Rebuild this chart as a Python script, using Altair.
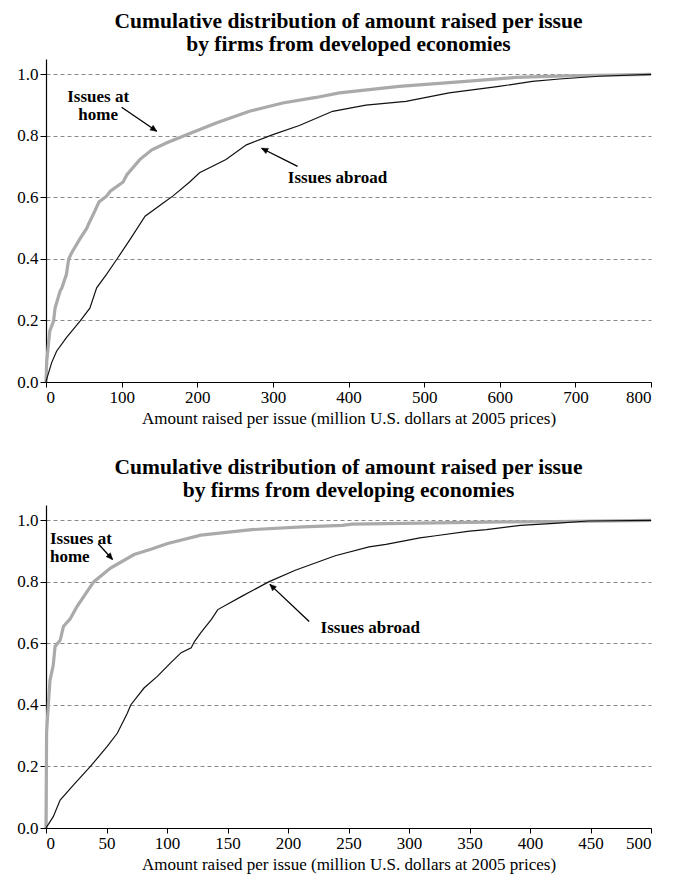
import math
import altair as alt
import pandas as pd

FONT = "Liberation Serif"
XTITLE = "Amount raised per issue (million U.S. dollars at 2005 prices)"

# ---- Panel 1: developed economies ----
dev_title = ["Cumulative distribution of amount raised per issue",
             "by firms from developed economies"]
dev_home_x = [0, 1, 5, 10, 12, 18.5, 21, 27, 30, 34, 45, 54, 56, 62.5, 70, 80, 85, 102, 107,
              124, 140, 159, 186, 225, 269, 313, 357, 388, 467, 555, 621, 687, 750, 800]
dev_home_y = [0, 0.068, 0.166, 0.198, 0.24, 0.295, 0.306, 0.35, 0.40, 0.42, 0.466, 0.50, 0.512,
              0.545, 0.585, 0.604, 0.62, 0.65, 0.674, 0.723, 0.755, 0.777, 0.804, 0.842, 0.88,
              0.907, 0.925, 0.94, 0.961, 0.977, 0.99, 0.995, 0.998, 1.0]
dev_abroad_x = [0, 1, 7.5, 14, 27, 45, 58, 67, 80, 95, 111, 131, 155, 168, 190, 203, 238, 265,
                300, 335, 379, 423, 476, 533, 599, 643, 679, 731, 800]
dev_abroad_y = [0, 0.01, 0.063, 0.10, 0.144, 0.198, 0.24, 0.306, 0.35, 0.404, 0.463, 0.539,
                0.582, 0.605, 0.65, 0.68, 0.723, 0.771, 0.804, 0.834, 0.88, 0.90, 0.912, 0.94,
                0.961, 0.977, 0.985, 0.994, 1.0]
dev_xmax, dev_xstep = 800, 100
dev_labels = ["Issues at\nhome", "Issues abroad"]
dev_label_x = [69, 385.5]
dev_label_y = [0.926, 0.662]
dev_label_align = ["center", "center"]
dev_arrow_from = [(100, 0.893), (332.7, 0.701)]
dev_arrow_to = [(146.5, 0.815), (285, 0.760)]

# ---- Panel 2: developing economies ----
dvg_title = ["Cumulative distribution of amount raised per issue",
             "by firms from developing economies"]
dvg_home_x = [0, 0.5, 2, 3.3, 6, 7.5, 11.7, 14.4, 20, 25.6, 39.4, 53.3, 72.8, 86.7, 100.6, 128,
              170, 212, 245, 253, 295, 378, 420, 500]
dvg_home_y = [0, 0.31, 0.407, 0.48, 0.53, 0.59, 0.61, 0.655, 0.68, 0.72, 0.80, 0.845, 0.889,
              0.906, 0.925, 0.952, 0.97, 0.979, 0.984, 0.988, 0.99, 0.995, 0.996, 1.0]
dvg_abroad_x = [0, 6, 11.7, 22.8, 36.7, 50.6, 58.9, 67.2, 70, 81, 92, 103, 111.7, 120, 122.8,
                128, 136.7, 142, 161.7, 184, 206, 239, 267, 281, 309, 322, 350, 364, 392, 406,
                420, 448, 500]
dvg_abroad_y = [0, 0.037, 0.091, 0.14, 0.20, 0.265, 0.308, 0.373, 0.40, 0.455, 0.493, 0.537,
                0.57, 0.586, 0.607, 0.635, 0.678, 0.71, 0.753, 0.80, 0.838, 0.885, 0.914, 0.922,
                0.943, 0.95, 0.965, 0.97, 0.984, 0.987, 0.99, 0.998, 1.0]
dvg_xmax, dvg_xstep = 500, 50
dvg_labels = ["Issues at\nhome", "Issues abroad"]
dvg_label_x = [3.3, 268]
dvg_label_y = [0.938, 0.651]
dvg_label_align = ["left", "center"]
dvg_arrow_from = [(43, 0.925), (217.5, 0.671)]
dvg_arrow_to = [(55, 0.873), (185, 0.792)]

YMAX = 1.05
W, H = 605, 323
ARROW_SHAPE = "M0,0L-0.45,1L0.45,1Z"


def panel(title, hx, hy, ax, ay, xmax, xstep, labels, lx, ly, lal, afrom, ato):
    xs = alt.Scale(domain=[0, xmax], nice=False, zero=True)
    ys = alt.Scale(domain=[0, YMAX], nice=False)
    xaxis = alt.Axis(values=list(range(0, xmax + 1, xstep)), title=XTITLE, grid=False,
                     tickSize=5, labelPadding=2, titlePadding=5, domainWidth=1.2)
    yaxis = alt.Axis(values=[0, 0.2, 0.4, 0.6, 0.8, 1.0], format=".1f", title=None, grid=True,
                     gridDash=[4, 3], gridColor="#888888", gridWidth=1, tickSize=6,
                     labelPadding=2, domainWidth=1.2)
    X = lambda f: alt.X(f, type="quantitative", scale=xs, axis=xaxis)
    Y = lambda f: alt.Y(f, type="quantitative", scale=ys, axis=yaxis)

    home = alt.Chart(pd.DataFrame({"x": hx, "y": hy})).mark_line(
        color="#aaaaaa", strokeWidth=3.2).encode(x=X("x"), y=Y("y"))
    abroad = alt.Chart(pd.DataFrame({"x": ax, "y": ay})).mark_line(
        color="#111111", strokeWidth=1.2).encode(x=X("x"), y=Y("y"))

    sx = W / xmax
    sy = H / YMAX
    rows = []
    for (x1, y1), (x2, y2) in zip(afrom, ato):
        dx = (x2 - x1) * sx
        dy = -(y2 - y1) * sy
        ang = math.degrees(math.atan2(dx, -dy)) % 360
        rows.append({"x": x1, "y": y1, "x2": x2, "y2": y2, "angle": ang})
    adf = pd.DataFrame(rows)
    rules = alt.Chart(adf).mark_rule(color="black", strokeWidth=1.3).encode(
        x=X("x"), y=Y("y"), x2="x2:Q", y2="y2:Q")
    heads = alt.Chart(adf).mark_point(shape=ARROW_SHAPE, filled=True, fill="black",
                                      stroke="black", strokeWidth=0.5,
                                      opacity=1, size=160).encode(
        x=X("x2"), y=Y("y2"), angle=alt.Angle("angle:Q", scale=None))

    tdf = pd.DataFrame({"x": lx, "y": ly, "t": labels, "al": lal})
    texts = []
    for al in ["left", "center"]:
        sub = tdf[tdf["al"] == al]
        if len(sub) == 0:
            continue
        texts.append(alt.Chart(sub).mark_text(
            font=FONT, fontSize=17, fontWeight="bold", align=al, baseline="middle",
            lineBreak="\n", lineHeight=17.5, color="black").encode(
            x=X("x"), y=Y("y"), text="t:N"))

    return alt.layer(home, abroad, rules, heads, *texts).properties(
        width=W, height=H,
        title=alt.TitleParams(text=title, font=FONT, fontSize=21.5, fontWeight="bold",
                              lineHeight=23, anchor="middle", offset=4, color="black"))


top = panel(dev_title, dev_home_x, dev_home_y, dev_abroad_x, dev_abroad_y, dev_xmax, dev_xstep,
            dev_labels, dev_label_x, dev_label_y, dev_label_align, dev_arrow_from, dev_arrow_to)
bottom = panel(dvg_title, dvg_home_x, dvg_home_y, dvg_abroad_x, dvg_abroad_y, dvg_xmax, dvg_xstep,
               dvg_labels, dvg_label_x, dvg_label_y, dvg_label_align, dvg_arrow_from, dvg_arrow_to)

chart = alt.vconcat(top, bottom, spacing=30).properties(
    padding={"left": 8, "top": 2, "right": 5, "bottom": 2}
).configure_view(stroke=None).configure_axis(
    labelFont=FONT, titleFont=FONT, labelFontSize=17, titleFontSize=17,
    titleFontWeight="normal", labelColor="black", titleColor="black",
    domainColor="black", tickColor="black"
).configure_title(font=FONT)

chart.save("out.html", embed_options={"renderer": "svg", "actions": False})
